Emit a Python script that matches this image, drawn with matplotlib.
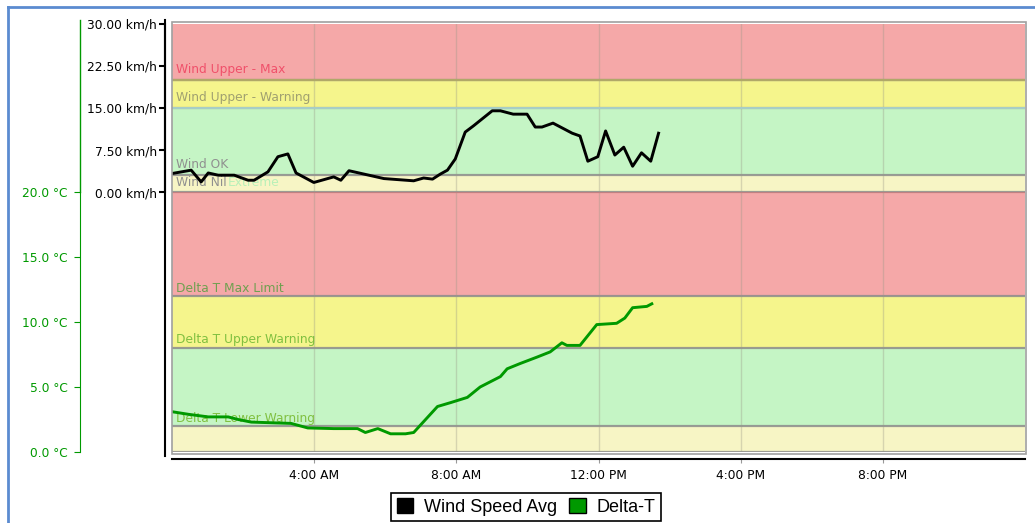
import matplotlib
matplotlib.use('Agg')
import matplotlib.pyplot as plt
from matplotlib.lines import Line2D
from matplotlib.patches import Patch, Rectangle

W, H = 1035, 523

# hours since midnight
wind_horas = [0.0, 0.54, 0.82, 1.02, 1.30, 1.75, 2.14, 2.31, 2.70, 2.98, 3.26, 3.49,
              3.99, 4.55, 4.75, 4.98, 5.96, 6.80, 7.08, 7.33, 7.55, 7.75, 7.97, 8.25,
              8.48, 9.01, 9.24, 9.60, 9.99, 10.22, 10.41, 10.72, 11.26, 11.48, 11.70,
              11.98, 12.20, 12.46, 12.71, 12.96, 13.21, 13.47, 13.69]
wind_vel = [3.3, 3.9, 1.8, 3.4, 3.0, 3.0, 2.1, 2.1, 3.6, 6.3, 6.8, 3.4,
            1.7, 2.7, 2.1, 3.8, 2.4, 2.0, 2.5, 2.3, 3.2, 3.9, 5.9, 10.7,
            11.8, 14.5, 14.5, 13.9, 13.9, 11.6, 11.6, 12.3, 10.5, 10.0, 5.5,
            6.3, 10.9, 6.6, 8.0, 4.6, 7.0, 5.5, 10.5]

dt_horas = [0.0, 0.46, 1.02, 1.58, 1.86, 2.23, 3.35, 3.82, 4.55, 5.22, 5.44, 5.79,
            6.15, 6.57, 6.80, 7.47, 7.84, 8.31, 8.67, 9.24, 9.43, 9.79, 10.27, 10.64,
            10.97, 11.11, 11.48, 11.95, 12.51, 12.74, 12.96, 13.36, 13.50]
dt_valor = [3.1, 2.9, 2.7, 2.7, 2.5, 2.3, 2.2, 1.85, 1.8, 1.8, 1.5, 1.8,
            1.4, 1.4, 1.5, 3.5, 3.8, 4.2, 5.0, 5.8, 6.4, 6.8, 7.3, 7.7,
            8.4, 8.2, 8.2, 9.8, 9.9, 10.3, 11.1, 11.2, 11.4]

# (low, high, colour, label, label colour, label y)
faixas_vento = [
    (20, 30, '#f5a8a8', 'Wind Upper - Max', '#f0506a', 21.2),
    (15, 20, '#f5f58c', 'Wind Upper - Warning', '#a0a070', 16.2),
    (3, 15, '#c5f5c5', 'Wind OK', '#909090', 4.2),
    (0, 3, '#f7f5c5', 'Wind Nil', '#909090', 1.0),
]
faixas_dt = [
    (12, 20, '#f5a8a8', 'Delta T Max Limit', '#70a050', 12.3),
    (8, 12, '#f5f58c', 'Delta T Upper Warning', '#80c040', 8.4),
    (2, 8, '#c5f5c5', 'Delta T Lower Warning', '#80c040', 2.3),
    (0, 2, '#f7f5c5', '', '#80c040', 0),
]

ticks_vento = [0, 7.5, 15, 22.5, 30]
ticks_dt = [0, 5, 10, 15, 20]
ticks_x = [4, 8, 12, 16, 20]
rotulos_x = ['4:00 AM', '8:00 AM', '12:00 PM', '4:00 PM', '8:00 PM']

VERDE = '#009900'
FONTE = 'DejaVu Sans'
TAM = 8.8


def fx(px):
    return px / W


def fy(py):
    return 1 - py / H


def pt(px):
    return px * 72 / 100


def desenhar_faixas(ax, faixas):
    for lo, hi, cor, texto, cor_txt, ytxt in faixas:
        ax.axhspan(lo, hi, color=cor, zorder=0, lw=0)
        ax.axhline(lo, color='#8c8c8c', lw=1.6, alpha=0.85, zorder=1)
        if texto:
            ax.text(0.12, ytxt, texto, color=cor_txt, fontsize=TAM,
                    family=FONTE, zorder=2)
    for t in ticks_x:
        ax.axvline(t, color='#999988', lw=1, alpha=0.35, zorder=1)
    ax.set_xlim(0, 24)


fig = plt.figure(figsize=(W / 100, H / 100), dpi=100)

ax_top = fig.add_axes([fx(172), fy(192), fx(1025 - 172), (192 - 24) / H])
ax_bot = fig.add_axes([fx(172), fy(452), fx(1025 - 172), (452 - 192) / H])

desenhar_faixas(ax_top, faixas_vento)
ax_top.axhline(15, color='#a8cfc8', lw=1.4, zorder=1)
ax_top.axhline(20, color='#b0a868', lw=1.6, zorder=1)
ax_top.text(1.58, 1.0, 'Extreme', color='#b8f0b8', fontsize=TAM, family=FONTE, zorder=2)
ax_top.set_ylim(0, 30)
ax_top.plot(wind_horas, wind_vel, color='black', lw=2.1, zorder=5)

desenhar_faixas(ax_bot, faixas_dt)
ax_bot.axhline(20, color='#c08080', lw=1.6, zorder=1)
ax_bot.set_ylim(0, 20)
ax_bot.plot(dt_horas, dt_valor, color=VERDE, lw=2.1, zorder=5)

for ax in (ax_top, ax_bot):
    for s in ax.spines.values():
        s.set_visible(False)
    ax.set_xticks(ticks_x)
    ax.tick_params(axis='x', length=0, labelbottom=False)

# wind axis (black)
ax_top.spines['left'].set_visible(True)
ax_top.spines['left'].set_position(('outward', pt(7)))
ax_top.spines['left'].set_linewidth(1.5)
ax_top.set_yticks(ticks_vento)
ax_top.set_yticklabels([f'{v:.2f} km/h' for v in ticks_vento], family=FONTE, fontsize=TAM)
ax_top.tick_params(axis='y', length=4, width=1.5, pad=2)

# delta-T axis (green)
ax_bot.spines['left'].set_visible(True)
ax_bot.spines['left'].set_position(('outward', pt(92)))
ax_bot.spines['left'].set_color(VERDE)
ax_bot.set_yticks(ticks_dt)
ax_bot.set_yticklabels([f'{v:.1f} °C' for v in ticks_dt], family=FONTE, fontsize=TAM,
                       color=VERDE)
ax_bot.tick_params(axis='y', length=4, color=VERDE, pad=5)

# x axis
ax_bot.spines['bottom'].set_visible(True)
ax_bot.spines['bottom'].set_position(('outward', pt(7)))
ax_bot.spines['bottom'].set_linewidth(1.5)
ax_bot.tick_params(axis='x', length=3, color='#999999', labelbottom=True, pad=4)
ax_bot.set_xticklabels(rotulos_x, family=FONTE, fontsize=TAM)

# extra axis lines and frame
fig.add_artist(Line2D([fx(165), fx(165)], [fy(20), fy(456)], color='black', lw=1.5))
fig.add_artist(Line2D([fx(80), fx(80)], [fy(20), fy(192)], color=VERDE, lw=1))
fig.add_artist(Rectangle((fx(172), fy(454)), fx(1026 - 172), (454 - 22) / H,
                         fill=False, edgecolor='#a0a0a0', lw=1.2))
fig.add_artist(Line2D([fx(8), fx(1035)], [fy(7), fy(7)], color='#5b8bd0', lw=2))
fig.add_artist(Line2D([fx(8), fx(8)], [fy(7), fy(523)], color='#5b8bd0', lw=2))

handles = [Patch(facecolor='black', edgecolor='black', label='Wind Speed Avg'),
           Patch(facecolor=VERDE, edgecolor='black', label='Delta-T')]
leg = fig.legend(handles=handles, loc='center', bbox_to_anchor=(fx(526), fy(507)),
                 ncol=2, frameon=True, fancybox=False, edgecolor='black', framealpha=1,
                 prop={'family': 'Liberation Sans', 'size': 13}, handlelength=0.9,
                 handleheight=0.9, handletextpad=0.6, columnspacing=0.7,
                 borderpad=0.3, borderaxespad=0)
leg.get_frame().set_linewidth(1.2)

fig.savefig('out.png', dpi=100, facecolor='white')
